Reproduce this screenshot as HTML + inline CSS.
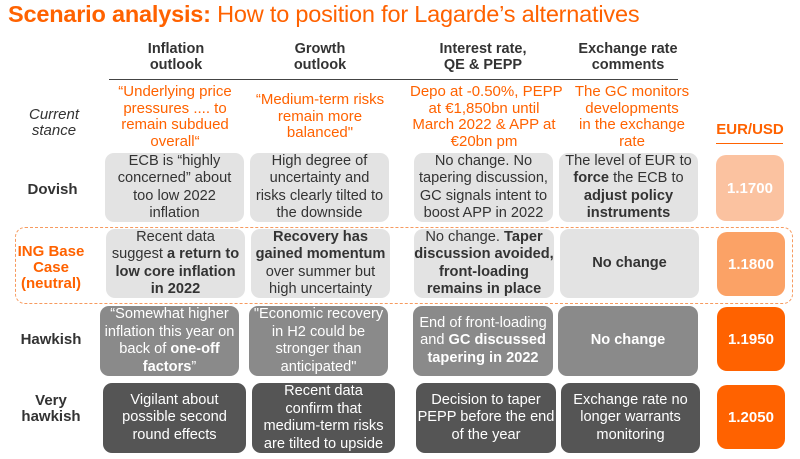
<!DOCTYPE html>
<html><head><meta charset="utf-8"><style>
body{margin:0;width:800px;height:459px;background:#fff;font-family:"Liberation Sans",sans-serif;position:relative;overflow:hidden;color:#333}
div{position:absolute;box-sizing:border-box;white-space:nowrap}
.t{left:8px;top:1px;font-size:23.5px;color:#ff6200;letter-spacing:-0.2px}
.h{font-weight:bold;font-size:14.5px;text-align:center;line-height:16px;color:#333}
.o{color:#ff6200;font-size:15px;text-align:center;line-height:16.5px}
.b{border-radius:9px;display:flex;align-items:center;justify-content:center;text-align:center;font-size:14.6px;line-height:17.5px}
.l1{background:#e3e3e3;color:#333}
.l2{background:#8a8a8a;color:#fff}
.l3{background:#555;color:#fff}
.e{border-radius:10px;display:flex;align-items:center;justify-content:center;color:#fff;font-weight:bold;font-size:15px}
.r{font-size:15px;font-weight:bold;text-align:center;line-height:16px;color:#333}
</style></head><body>
<div class="t"><b>Scenario analysis:</b> How to position for Lagarde’s alternatives</div>

<div class="h" style="left:106px;top:41px;width:140px">Inflation<br>outlook</div>
<div class="h" style="left:250px;top:41px;width:140px">Growth<br>outlook</div>
<div class="h" style="left:413px;top:41px;width:140px">Interest rate,<br>QE &amp; PEPP</div>
<div class="h" style="left:558px;top:41px;width:140px">Exchange rate<br>comments</div>
<div style="left:109px;top:79px;width:569px;height:1px;background:#444"></div>

<div style="left:18px;top:107px;width:72px;font-style:italic;font-size:15px;line-height:16px;text-align:center">Current<br>stance</div>
<div class="o" style="left:105px;top:84px;width:140px">“Underlying price<br>pressures .... to<br>remain subdued<br>overall“</div>
<div class="o" style="left:250px;top:92px;width:140px">“Medium-term risks<br>remain more<br>balanced"</div>
<div class="o" style="left:410px;top:84px;width:148px">Depo at -0.50%, PEPP<br>at €1,850bn until<br>March 2022 &amp; APP at<br>€20bn pm</div>
<div class="o" style="left:568px;top:84px;width:128px">The GC monitors<br>developments<br>in the exchange<br>rate</div>
<div style="left:716px;top:121px;width:68px;font-size:15px;font-weight:bold;color:#ff6200;text-align:center">EUR/USD</div>
<div style="left:716px;top:143px;width:67px;height:1px;background:#ff6200"></div>

<div class="r" style="left:15px;top:182px;width:75px">Dovish</div>
<div class="b l1" style="left:105px;top:153px;width:139px;height:69px">ECB is “highly<br>concerned” about<br>too low 2022<br>inflation</div>
<div class="b l1" style="left:250px;top:153px;width:139px;height:69px">High degree of<br>uncertainty and<br>risks clearly tilted to<br>the downside</div>
<div class="b l1" style="left:414px;top:153px;width:139px;height:69px">No change. No<br>tapering discussion,<br>GC signals intent to<br>boost APP in 2022</div>
<div class="b l1" style="left:559px;top:153px;width:139px;height:69px"><span>The level of EUR to<br><b>force</b> the ECB to<br><b>adjust policy<br>instruments</b></span></div>
<div class="e" style="left:716px;top:155px;width:68px;height:66px;background:#fbc2a0">1.1700</div>

<div style="left:15px;top:227px;width:778px;height:77px;border:1.3px dashed #f79a5e;border-radius:10px"></div>
<div style="left:12px;top:244px;width:78px;font-size:15px;font-weight:bold;color:#ff6200;text-align:center;line-height:16px">ING Base<br>Case<br>(neutral)</div>
<div class="b l1" style="left:106px;top:229px;width:139px;height:69px"><span>Recent data<br>suggest <b>a return to<br>low core inflation<br>in 2022</b></span></div>
<div class="b l1" style="left:251px;top:229px;width:139px;height:69px"><span><b>Recovery has<br>gained momentum</b><br>over summer but<br>high uncertainty</span></div>
<div class="b l1" style="left:414px;top:229px;width:140px;height:69px"><span>No change. <b>Taper<br>discussion avoided,<br>front-loading<br>remains in place</b></span></div>
<div class="b l1" style="left:560px;top:229px;width:139px;height:69px"><b>No change</b></div>
<div class="e" style="left:717px;top:232px;width:68px;height:64px;background:#fba266">1.1800</div>

<div class="r" style="left:12px;top:332px;width:78px">Hawkish</div>
<div class="b l2" style="left:100px;top:306px;width:139px;height:70px"><span>“Somewhat higher<br>inflation this year on<br>back of <b>one-off<br>factors</b>”</span></div>
<div class="b l2" style="left:249px;top:306px;width:139px;height:70px">"Economic recovery<br>in H2 could be<br>stronger than<br>anticipated"</div>
<div class="b l2" style="left:413px;top:306px;width:140px;height:70px"><span>End of front-loading<br>and <b>GC discussed<br>tapering in 2022</b></span></div>
<div class="b l2" style="left:558px;top:306px;width:140px;height:70px"><b>No change</b></div>
<div class="e" style="left:717px;top:307px;width:68px;height:64px;background:#ff6200">1.1950</div>

<div class="r" style="left:12px;top:393px;width:78px">Very<br>hawkish</div>
<div class="b l3" style="left:103px;top:383px;width:143px;height:70px">Vigilant about<br>possible second<br>round effects</div>
<div class="b l3" style="left:252px;top:383px;width:143px;height:70px">Recent data<br>confirm that<br>medium-term risks<br>are tilted to upside</div>
<div class="b l3" style="left:416px;top:383px;width:140px;height:70px">Decision to taper<br>PEPP before the end<br>of the year</div>
<div class="b l3" style="left:561px;top:383px;width:139px;height:70px">Exchange rate no<br>longer warrants<br>monitoring</div>
<div class="e" style="left:717px;top:385px;width:68px;height:64px;background:#ff6200">1.2050</div>
</body></html>
